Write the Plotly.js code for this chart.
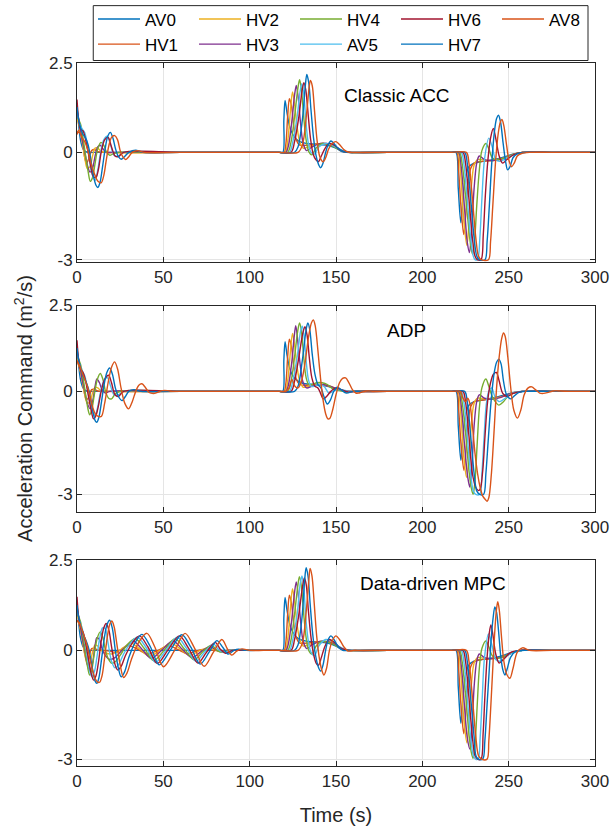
<!DOCTYPE html>
<html>
<head>
<meta charset="utf-8">
<script src="https://cdn.plot.ly/plotly-3.0.1.min.js"></script>
<style>html,body{margin:0;padding:0;background:#fff;}#chart{width:611px;height:831px;}</style>
</head>
<body>
<div id="chart"></div>
<script>
// ---------------- Data ----------------
const vehicles = ['AV0','HV1','HV2','HV3','HV4','AV5','HV6','HV7','AV8'];
const panelTitles = ['Classic ACC','ADP','Data-driven MPC'];
const xTicks = [0,50,100,150,200,250,300];
const yTicks = [-3,0,2.5];
const yTickText = ['-3','0','2.5'];

// ---- Classic ACC ----
const cacc_AV0_t = [0,1,2,3.5,5,7,10,60, 117,119.2,119.8,120.5,121.5,123,125,128,132,138,145,150,153,156,180, 217,219.5,220.8,222.3,223.5,225,227,230,235,242,248,253,258,275, 300];
const cacc_AV0_a = [1.27,0.75,0.35,0.1,0.02,0,0,0, 0,0,0.9,1.45,1.15,0.75,0.5,0.33,0.26,0.23,0.2,0.12,0.03,0,0, 0,0,-1.0,-1.97,-1.3,-0.7,-0.4,-0.3,-0.25,-0.2,-0.12,-0.04,0,0, 0];
const cacc_HV1_t = [0,1,2.2,3.5,4.5,5.5,7,8.5,10,12,15,60, 117,120,121,122,123,124.2,125.5,127,129,133,140,147,151,154,157,180, 217,220,221,222.5,224,225.2,226.5,228,230,235,242,248,253,258,275, 300];
const cacc_HV1_a = [0.5,0.62,0.55,0.2,-0.15,-0.3,-0.15,0.05,0.08,0.02,0,0, 0,0,0.25,1.0,1.5,1.3,0.75,0.35,0.2,0.2,0.24,0.22,0.12,0.03,0,0, 0,0,-0.5,-1.6,-2.3,-1.7,-0.9,-0.45,-0.3,-0.25,-0.22,-0.15,-0.05,0,0, 0];
const cacc_HV2_t = [0,1.5,3,4.5,6,7.5,9,10.5,12,14,17,60, 117,120.5,122,123.5,124.8,126,127.5,129,131,134,140,147,151,154,157,180, 217,220.5,222,224,225.8,227,228.5,230,232,236,242,248,253,258,275, 300];
const cacc_HV2_a = [0.95,0.7,0.3,-0.15,-0.45,-0.4,-0.1,0.12,0.12,0.03,0,0, 0,0,0.3,1.1,1.69,1.35,0.7,0.3,0.12,0.15,0.24,0.22,0.12,0.03,0,0, 0,0,-0.5,-1.9,-2.6,-2.0,-0.9,-0.35,-0.2,-0.22,-0.22,-0.15,-0.05,0,0, 0];
const cacc_HV3_t = [0,1.5,3,4.5,6,7.5,9,10.5,12,13.5,15,17,20,60, 117,121,122.5,124.5,126,127,128.2,129.5,131,133,136,141,147,151,154,157,180, 217,221,222.5,224.5,226,227.3,228.5,230,231.5,233,236,242,248,253,258,275, 300];
const cacc_HV3_a = [1.15,0.8,0.35,0.0,-0.35,-0.55,-0.45,-0.1,0.15,0.2,0.1,0.0,0,0, 0,0,0.2,0.9,1.6,1.87,1.5,0.8,0.25,0.05,0.15,0.25,0.22,0.12,0.03,0,0, 0,0,-0.4,-1.6,-2.5,-2.8,-2.2,-1.0,-0.3,-0.1,-0.2,-0.22,-0.15,-0.05,0,0, 0];
const cacc_HV4_t = [0,2,3.5,5,6.5,7.7,9,10.5,12,13.9,15.5,17,19,21,24,60, 117,122,124,126,127.8,128.9,130,131.3,132.7,134.2,136,138.5,142,147,151,155,158,180, 217,221.5,223,225,227,228,229.1,230.2,231.5,233,234.5,236.8,238.5,240.5,243,248,253,258,275, 300];
const cacc_HV4_a = [1.0,0.8,0.4,-0.1,-0.55,-0.81,-0.7,-0.3,0.1,0.28,0.2,0.02,-0.08,-0.04,0,0, 0,0,0.3,1.0,1.75,2.03,1.75,1.0,0.35,0.02,-0.07,0.12,0.25,0.2,0.1,0.02,0,0, 0,0,-0.3,-1.2,-2.2,-2.6,-2.85,-2.5,-1.5,-0.5,0.05,0.25,0.1,-0.15,-0.2,-0.15,-0.05,0,0, 0];
const cacc_AV5_t = [0,1.5,3,4.5,6,7.5,9,10.5,12,13.5,15.5,17.5,19.5,21.5,24,27,60, 117,123,125,127.5,129.2,130.2,131.3,132.5,134,135.5,137.5,140,144,148,152,156,159,180, 217,222.5,224,226,228,229.5,230.5,232,233.3,234.5,236,238.5,240.5,242.5,245,249,254,259,275, 300];
const cacc_AV5_a = [1.18,0.8,0.65,0.55,0.2,-0.3,-0.65,-0.78,-0.5,-0.05,0.35,0.45,0.2,-0.08,-0.1,0,0, 0,0,0.3,1.0,1.7,1.92,1.65,0.9,0.25,0.0,-0.05,0.15,0.25,0.2,0.1,0.02,0,0, 0,0,-0.3,-1.3,-2.4,-2.9,-3.0,-3.0,-2.4,-1.3,-0.2,0.4,0.15,-0.2,-0.25,-0.15,-0.05,0,0, 0];
const cacc_HV6_t = [0,1,2,3.5,5,6.5,8,9.5,11,12.5,14,16,18,20,22,24,27,60, 117,124,126,128.5,130.3,131.4,132.5,133.8,135.2,136.8,138.3,139.8,141.5,143.5,146,149,152,156,160,180, 217,223.5,225,227,229,230.5,231.8,234,235.3,236.5,238,239.5,241.1,242.7,244.5,246.5,249,253,258,275, 300];
const cacc_HV6_a = [1.48,0.9,0.65,0.6,0.35,0.0,-0.4,-0.68,-0.7,-0.45,0.0,0.35,0.42,0.15,-0.1,-0.12,0,0, 0,0,0.3,1.0,1.7,1.95,1.75,1.1,0.4,-0.05,-0.2,-0.26,-0.1,0.1,0.25,0.2,0.08,0.01,0,0, 0,0,-0.3,-1.3,-2.4,-2.9,-3.0,-3.0,-2.3,-1.2,-0.2,0.4,0.67,0.35,-0.1,-0.3,-0.2,-0.06,0,0, 0];
const cacc_HV7_t = [0,1,2,3.5,5,6.5,8,9.5,11,12.1,13.3,14.8,16.3,17.8,19.3,20.8,22.3,24,25.6,27.5,30,34,38,60, 117,126,128,130.5,132.2,133.1,134.2,135.5,137,138.5,140,141.1,142.5,144,145.5,147.1,148.8,151,154,158,162,180, 217,224.5,226,228,230,231.5,232.8,236.3,237.5,238.8,240.2,241.8,243,244.1,245.3,246.8,248.2,249.4,250.8,252.5,255,260,275, 300];
const cacc_HV7_a = [1.27,0.9,0.7,0.5,0.4,0.2,-0.2,-0.65,-0.92,-0.98,-0.85,-0.4,0.1,0.45,0.56,0.4,0.1,-0.12,-0.19,-0.12,0.0,0.06,0,0, 0,0,0.15,0.9,1.85,2.18,1.95,1.2,0.4,-0.1,-0.35,-0.43,-0.3,0.0,0.22,0.32,0.25,0.12,0.03,0,0,0, 0,0,-0.3,-1.3,-2.4,-2.9,-3.0,-3.0,-2.5,-1.5,-0.3,0.6,0.95,1.04,0.85,0.25,-0.25,-0.49,-0.4,-0.15,-0.04,0,0, 0];
const cacc_AV8_t = [0,1.5,3,4.5,6,7.5,9,10.5,12,14,15.5,17,18.5,20,21.8,23.5,25,26.5,28.1,30,32,35,39,60, 117,128,130.5,133,134.5,135.2,136.3,137.5,139,140.5,142,142.7,144,145.8,147.8,150,152,154.5,157,160,164,180, 217,225.5,227,229,231,232.5,234,238.3,239.5,240.8,242.5,244,245.2,246.1,247.2,248.8,250.3,251.7,253.2,255,257.5,262,275, 300];
const cacc_AV8_a = [0.57,0.55,0.4,0.3,0.1,-0.2,-0.45,-0.65,-0.8,-0.85,-0.65,-0.2,0.2,0.42,0.47,0.35,0.05,-0.12,-0.2,-0.12,0.0,0.05,0,0, 0,0,0.2,1.1,1.85,2.01,1.85,1.2,0.35,-0.1,-0.25,-0.26,-0.15,0.1,0.25,0.3,0.22,0.08,0.01,0,0,0, 0,0,-0.3,-1.3,-2.4,-2.9,-3.0,-3.0,-2.5,-1.5,-0.2,0.55,0.85,0.92,0.75,0.2,-0.25,-0.4,-0.3,-0.1,-0.03,0,0, 0];

// ---- ADP ----
const adp_AV0_t = [0,1,2,3.5,5,7,10,60, 117,119.2,119.8,120.5,121.5,123,125,128,132,138,145,150,154,158,180, 217,219.5,220.8,222.3,223.5,225,227,230,235,242,248,253,258,275, 300];
const adp_AV0_a = [1.26,0.75,0.35,0.1,0.02,0,0,0, 0,0,0.9,1.45,1.1,0.7,0.45,0.3,0.22,0.2,0.15,0.07,0.02,0,0, 0,0,-1.0,-2.01,-1.3,-0.7,-0.4,-0.3,-0.25,-0.18,-0.1,-0.03,0,0, 0];
const adp_HV1_t = [0,1,2.2,3.5,4.5,5.5,7,8.5,10,12,15,60, 117,120,121,122,123,124.2,125.5,127,129,133,140,146,150,154,158,180, 217,220,221,222.5,224.1,225.3,226.5,228,230,235,242,248,253,258,275, 300];
const adp_HV1_a = [0.9,0.75,0.55,0.2,-0.1,-0.25,-0.15,0.05,0.06,0.01,0,0, 0,0,0.25,1.0,1.52,1.3,0.75,0.35,0.2,0.18,0.2,0.15,0.07,0.02,0,0, 0,0,-0.5,-1.6,-2.3,-1.7,-0.9,-0.45,-0.3,-0.25,-0.2,-0.12,-0.04,0,0, 0];
const adp_HV2_t = [0,1.5,3,4.5,6,7.5,9,10.5,12,14,17,60, 117,120.5,122,123.5,124.8,126,127.5,129,131,134,140,146,150,154,158,180, 217,220.5,222,224,225.6,227,228.5,230,232,236,242,248,253,258,275, 300];
const adp_HV2_a = [1.03,0.7,0.3,-0.1,-0.35,-0.3,-0.05,0.12,0.1,0.02,0,0, 0,0,0.3,1.1,1.69,1.35,0.7,0.3,0.12,0.15,0.2,0.16,0.08,0.02,0,0, 0,0,-0.5,-1.9,-2.5,-2.0,-0.9,-0.35,-0.2,-0.22,-0.2,-0.13,-0.04,0,0, 0];
const adp_HV3_t = [0,1.5,3,4.5,6,7.5,9,10.5,11.5,13,14.5,16.5,19,60, 117,121,122.5,124.5,125.8,126.7,127.8,129.2,131,133,136,141,146,150,154,158,180, 217,221,222.5,224.5,226.3,227.5,228.7,230,231.5,233,236,242,248,253,258,275, 300];
const adp_HV3_a = [1.15,0.8,0.35,0.0,-0.35,-0.5,-0.3,0.15,0.36,0.25,0.05,-0.05,0,0, 0,0,0.2,0.9,1.6,1.91,1.5,0.8,0.25,0.1,0.15,0.2,0.16,0.08,0.02,0,0, 0,0,-0.4,-1.6,-2.5,-2.79,-2.2,-1.0,-0.3,-0.1,-0.2,-0.22,-0.13,-0.04,0,0, 0];
const adp_HV4_t = [0,2,3.5,5,6.3,7.3,8.5,10,11.8,13.5,15,16.5,18.3,20,22,25,60, 117,122,124,126,127.8,128.9,130,131.3,132.7,134.2,136,139,142,145,148,152,156,160,180, 217,221.5,223,225,227,228.3,229.4,230.5,231.8,233,234.5,236.8,238.5,240.5,243,244.3,247,250,254,258,275, 300];
const adp_HV4_a = [1.03,0.8,0.4,-0.1,-0.5,-0.68,-0.55,-0.1,0.35,0.52,0.35,0.0,-0.2,-0.22,-0.08,0,0, 0,0,0.3,1.0,1.75,1.99,1.75,1.0,0.4,0.2,0.2,0.25,0.25,0.2,0.08,0.02,-0.02,0,0, 0,0,-0.3,-1.2,-2.3,-2.8,-3.0,-2.6,-1.5,-0.5,0.1,0.36,0.15,-0.15,-0.35,-0.4,-0.3,-0.12,-0.03,0,0, 0];
const adp_AV5_t = [0,1.5,3,4.5,6,7.5,9,10.5,12,13.5,15.5,17.5,19.5,21.5,24,27,60, 117,123,125,127.5,129.5,130.5,131.5,132.7,134,135.5,137.5,140,143,146,149,153,157,161,180, 217,222.5,224,226,228,229.5,231,233.3,234.5,235.8,237,238.5,240.2,242,244.5,248,252,257,275, 300];
const adp_AV5_a = [1.15,0.8,0.6,0.45,0.1,-0.3,-0.6,-0.7,-0.45,-0.05,0.3,0.4,0.15,-0.1,-0.1,0,0, 0,0,0.3,1.0,1.75,1.9,1.6,0.9,0.35,0.15,0.15,0.2,0.15,-0.05,0.02,0.05,0.0,0,0, 0,0,-0.3,-1.3,-2.4,-2.9,-3.0,-3.0,-2.4,-1.3,-0.4,0.0,0.1,-0.15,-0.3,-0.2,-0.06,0,0, 0];
const adp_HV6_t = [0,1,2,3.5,5,6.5,8,9.6,11,12.5,14,16,18.3,20,22,24,27,60, 117,124,126,128.5,130.8,132,133.2,134.5,136,137.8,139.5,141,142.7,144.5,147,150,153,157,161,180, 217,223.5,225,227,229,231,232.5,233.5,235,236.3,237.8,239.5,241.2,242.9,244.5,246.5,249,253,258,275, 300];
const adp_HV6_a = [1.49,0.9,0.65,0.55,0.3,-0.1,-0.5,-0.8,-0.7,-0.4,0.0,0.35,0.47,0.25,-0.1,-0.15,0,0, 0,0,0.3,1.0,1.7,1.88,1.65,1.0,0.4,0.15,0.1,-0.05,-0.22,-0.15,0.0,0.1,0.05,-0.02,0,0, 0,0,-0.3,-1.3,-2.4,-2.8,-2.89,-2.85,-2.3,-1.3,-0.3,0.25,0.5,0.55,0.3,-0.05,-0.15,-0.05,0,0, 0];
const adp_HV7_t = [0,1,2,3.5,5,6.5,8,9.5,10.5,11.5,12.7,14.2,15.7,17.3,18.9,20.5,22.2,24,26.1,28,30,33,37,60, 117,126,128,130.5,132.7,133.7,134.8,136.2,137.8,139.5,141.3,143,145,146.8,148.7,150.8,153,156,160,164,180, 217,224.5,226,228,230,231.5,233.2,235.5,236.8,238.2,239.8,241.5,243,244.3,245.6,247,248.8,251.2,253.5,256,260,275, 300];
const adp_HV7_a = [1.26,0.9,0.7,0.45,0.3,0.1,-0.25,-0.65,-0.85,-0.9,-0.75,-0.3,0.2,0.55,0.68,0.5,0.1,-0.15,-0.27,-0.15,0.0,0.05,0,0, 0,0,0.15,0.9,1.8,1.99,1.8,1.1,0.5,0.2,0.1,-0.15,-0.37,-0.25,0.0,0.12,0.05,-0.05,0,0,0, 0,0,-0.3,-1.3,-2.4,-2.9,-3.0,-3.0,-2.4,-1.4,-0.3,0.5,0.85,0.94,0.8,0.3,-0.1,-0.22,-0.12,-0.03,0,0, 0];
const adp_AV8_t = [0,1.5,3,4.5,6,7.5,9,10.5,12,14.1,16,18,20,21.8,23.5,25.5,27.7,29.9,32,34,35.8,37.6,39.5,41.5,43.5,45,47,49.5,52.4,55,58,66, 117,121,122.8,124.5,126.2,128,130,132,134,135.8,136.9,138,139.5,141,142.5,144,145.3,146.5,148,150,152,153.8,155.6,157.5,159.5,161.5,163,165,168,172,185, 217,222,223.5,225,226.3,227.5,229,230.5,232,233.5,235,236.5,237.5,238.5,240,241.5,243,244.5,246,247,248,249.5,251,253,255.1,257,259,261.3,263.4,265.5,268,270.2,273,276,280,285,292, 300];
const adp_AV8_a = [0.9,0.75,0.55,0.35,0.15,-0.15,-0.45,-0.65,-0.72,-0.73,-0.35,0.25,0.7,0.86,0.65,0.1,-0.35,-0.51,-0.3,0.0,0.18,0.22,0.12,-0.02,-0.06,-0.06,-0.02,0.02,0.02,0.0,0,0, 0,0,0.1,0.35,0.15,0.1,0.3,0.8,1.55,2.0,2.08,1.9,1.2,0.4,-0.25,-0.65,-0.8,-0.78,-0.55,-0.1,0.25,0.38,0.39,0.25,0.05,-0.05,-0.05,-0.02,0.01,0,0, 0,0,-0.2,-0.3,-0.2,-0.35,-1.0,-1.8,-2.4,-2.8,-3.05,-3.15,-3.2,-3.1,-2.4,-1.2,0.1,1.0,1.55,1.7,1.6,1.0,0.2,-0.55,-0.78,-0.55,-0.1,0.1,0.13,0.05,-0.05,-0.06,-0.03,0.01,0.01,0,0, 0];

// ---- Data-driven MPC ----
const mpc_AV0_t = [0,1,2,3.5,5,7,10,60, 117,119.2,119.8,120.5,121.5,123,125,128,132,138,145,150,153,156,180, 217,219.5,220.8,222.3,223.5,225,227,230,235,242,248,253,258,275, 300];
const mpc_AV0_a = [1.25,0.75,0.35,0.1,0.02,0,0,0, 0,0,0.9,1.46,1.15,0.75,0.5,0.33,0.26,0.23,0.2,0.12,0.03,0,0, 0,0,-1.0,-2.01,-1.3,-0.7,-0.4,-0.3,-0.25,-0.2,-0.12,-0.04,0,0, 0];
const mpc_HV1_t = [0,1,2.2,3.5,4.5,5.5,7,8.5,10,12,15,19,22,26,30,35.5,40.8,47,53,58.5,64,69.5,75,79,84,90,105, 117,120,121,122,123,124.2,125.5,127,129,133,140,147,151,154,157,180, 217,220,221,222.5,224,225.2,226.5,228,230,235,242,248,253,258,275, 300];
const mpc_HV1_a = [0.83,0.75,0.55,0.2,-0.1,-0.25,-0.15,0.05,0.06,0.01,0.0,-0.02,-0.05,0.03,0.13,0.02,-0.1,0.0,0.13,0.02,-0.09,-0.01,0.04,0.0,-0.01,0,0, 0,0,0.25,1.0,1.52,1.3,0.75,0.35,0.2,0.2,0.24,0.22,0.12,0.03,0,0, 0,0,-0.5,-1.6,-2.3,-1.7,-0.9,-0.45,-0.3,-0.25,-0.22,-0.15,-0.05,0,0, 0];
const mpc_HV2_t = [0,1.5,3,4.5,6,7.5,9,10.5,12,14,17,20,23,27,31.3,36.5,42,48,54.3,60,65.3,70.5,76,80,85,91,105, 117,120.5,122,123.5,124.8,126,127.5,129,131,134,140,147,151,154,157,180, 217,220.5,222,224,225.8,227,228.5,230,232,236,242,248,253,258,275, 300];
const mpc_HV2_a = [1.02,0.7,0.3,-0.1,-0.38,-0.33,-0.05,0.15,0.12,0.0,-0.08,-0.1,-0.05,0.08,0.2,0.03,-0.16,0.0,0.2,0.03,-0.14,-0.02,0.07,0.0,-0.02,0,0, 0,0,0.3,1.1,1.7,1.35,0.7,0.3,0.12,0.15,0.24,0.22,0.12,0.03,0,0, 0,0,-0.5,-1.9,-2.55,-2.0,-0.9,-0.35,-0.2,-0.22,-0.22,-0.15,-0.05,0,0, 0];
const mpc_HV3_t = [0,1.5,3,4.5,6,7.5,9,10.5,11.5,13,14.5,16.5,19,22,25,28.5,32.5,37.5,43,49,55.5,61,66.5,72,77,81,83,87,92,105, 117,121,122.5,124.5,126,127,128.2,129.5,131,133,136,141,147,151,154,157,180, 217,221,222.5,224.5,226,227.5,228.7,230,231.5,233,236,242,248,253,258,275, 300];
const mpc_HV3_a = [1.15,0.8,0.35,0.0,-0.4,-0.55,-0.35,0.15,0.35,0.3,0.05,-0.15,-0.25,-0.2,-0.05,0.12,0.26,0.04,-0.22,0.0,0.26,0.03,-0.2,-0.03,0.1,0.0,-0.03,0.0,0,0, 0,0,0.2,0.9,1.6,1.89,1.5,0.8,0.25,0.05,0.15,0.25,0.22,0.12,0.03,0,0, 0,0,-0.4,-1.6,-2.4,-2.72,-2.2,-1.0,-0.3,-0.1,-0.2,-0.22,-0.15,-0.05,0,0, 0];
const mpc_HV4_t = [0,2,3.5,5,6.3,7.3,8.5,10,11.8,13.5,15,16.5,18.3,20.2,22.5,25.5,29,33.8,39,44.3,50.5,56.8,62.3,67.8,73,78,81,84,88,93,105, 117,122,124,126,127.8,128.8,130,131.3,132.7,134.2,136,138.5,142,147,151,155,158,180, 217,221.5,223,225,227,228.3,229.4,230.5,231.8,233,234.5,236.8,238.5,240.5,243,248,253,258,275, 300];
const mpc_HV4_a = [1.02,0.8,0.4,-0.1,-0.5,-0.68,-0.55,-0.1,0.35,0.51,0.35,0.0,-0.25,-0.36,-0.3,-0.1,0.15,0.32,0.05,-0.28,0.0,0.32,0.03,-0.26,-0.03,0.14,0.0,-0.05,0.0,0,0, 0,0,0.3,1.0,1.75,2.03,1.75,1.0,0.35,0.0,-0.1,0.12,0.25,0.2,0.1,0.02,0,0, 0,0,-0.3,-1.2,-2.3,-2.8,-2.98,-2.6,-1.5,-0.5,0.05,0.26,0.1,-0.15,-0.22,-0.15,-0.05,0,0, 0];
const mpc_AV5_t = [0,1.5,3,4.5,6,7.5,8.5,10,11.5,13,14.8,16.3,18,20,22,24,27,31,35,40,45.5,51.5,58,63.5,69,74,79,82,85,89,94,105, 117,123,125,127.5,129.3,130.3,131.3,132.5,134,135.5,137.5,140,144,148,152,156,159,180, 217,222.5,224,226,228,229.5,230.8,232.3,233.5,234.7,236,238.3,240.3,242.5,245,249,254,259,275, 300];
const mpc_AV5_a = [1.15,0.8,0.6,0.3,-0.2,-0.6,-0.72,-0.6,-0.2,0.3,0.62,0.6,0.2,-0.3,-0.48,-0.4,-0.1,0.2,0.36,0.08,-0.33,0.0,0.36,0.05,-0.3,-0.04,0.18,0.02,-0.06,0.0,0,0, 0,0,0.3,1.0,1.85,2.05,1.75,0.9,0.25,-0.05,-0.15,0.12,0.3,0.25,0.1,0.02,0,0, 0,0,-0.3,-1.3,-2.4,-2.9,-3.0,-3.0,-2.4,-1.3,-0.2,0.45,0.15,-0.25,-0.3,-0.15,-0.05,0,0, 0];
const mpc_HV6_t = [0,1,2,3.5,5,6.5,8,9.6,11,12.5,14,15.5,16.9,18.5,20,21.8,23.5,25.5,28,32,36.2,41,46.5,52.5,59.3,64.5,70,75,80,83,86,90,95,105, 117,124,126,128.5,130.6,131.7,132.8,134,135.4,137,138.5,139.8,141.5,143.5,146,149,152,156,160,180, 217,223.5,225,227,229,230.5,232,234,235.2,236.3,237.5,238.7,239.7,240.8,242.5,244.5,247,251,256,275, 300];
const mpc_HV6_a = [1.48,0.9,0.65,0.5,0.2,-0.2,-0.6,-0.82,-0.7,-0.3,0.25,0.62,0.74,0.55,0.1,-0.35,-0.54,-0.45,-0.15,0.2,0.4,0.1,-0.36,0.0,0.4,0.07,-0.35,-0.05,0.22,0.03,-0.08,0.0,0,0, 0,0,0.3,1.0,1.75,2.0,1.8,1.1,0.4,-0.1,-0.35,-0.41,-0.2,0.1,0.3,0.22,0.08,0.01,0,0, 0,0,-0.3,-1.3,-2.4,-2.9,-3.0,-3.0,-2.3,-1.2,-0.2,0.45,0.7,0.45,-0.1,-0.35,-0.25,-0.06,0,0, 0];
const mpc_HV7_t = [0,1,2,3.5,5,6.5,8,9.5,10.5,11.5,12.7,14.2,15.7,17.3,18.9,20.5,22.2,24,25.6,27.5,30,33.5,37.6,42.5,47.6,54,60.7,66,71.3,76.5,81,84.5,87.5,91,93.5,98,106, 117,126,128,130.3,131.8,132.7,133.8,135,136.5,138,139.7,141.1,142.5,144,145.5,147.1,148.8,151,154,158,162,180, 217,224.5,226,228,230,231,232.3,235,236.2,237.5,238.8,240,241,242,243,244.2,245.5,246.7,247.8,249.2,251,254,258,275, 300];
const mpc_HV7_a = [1.25,0.9,0.7,0.45,0.3,0.1,-0.25,-0.65,-0.85,-0.91,-0.75,-0.25,0.3,0.7,0.83,0.6,0.0,-0.5,-0.73,-0.6,-0.2,0.2,0.44,0.1,-0.4,0.0,0.43,0.08,-0.38,-0.05,0.27,0.08,-0.1,0.0,0.03,0,0, 0,0,0.15,0.9,1.9,2.28,2.05,1.3,0.45,-0.1,-0.45,-0.57,-0.4,0.0,0.3,0.4,0.3,0.12,0.0,0,0,0, 0,0,-0.3,-1.3,-2.4,-2.9,-3.0,-3.0,-2.5,-1.5,-0.5,0.4,0.9,1.2,1.05,0.5,-0.2,-0.55,-0.68,-0.5,-0.2,-0.03,0,0, 0];
const mpc_AV8_t = [0,1.5,3,4.5,6,7.5,9,10.5,11.8,13.1,14.5,16,17.5,19,20.2,21.5,23,25,27,29,31.5,35.5,40.5,45,50.1,56.5,62.6,68,73.6,79,83.9,87,89.6,92.5,95.5,100,108, 117,128,130.5,132.8,134.3,135,136.1,137.3,138.8,140.3,141.8,143,144.5,146.2,148.2,150,152,154.5,157,160,164,180, 217,225.5,227,229,231,232.5,234.3,237.5,238.5,239.7,241,242.2,243,243.7,244.6,245.8,247.2,248.8,250.7,252.5,255,258,262,275, 300];
const mpc_AV8_a = [0.83,0.75,0.55,0.35,0.1,-0.25,-0.55,-0.78,-0.87,-0.88,-0.7,-0.2,0.35,0.72,0.81,0.65,0.2,-0.4,-0.75,-0.62,-0.25,0.2,0.47,0.1,-0.45,0.0,0.47,0.07,-0.44,-0.05,0.3,0.05,-0.13,-0.02,0.04,0,0, 0,0,0.2,1.1,1.95,2.26,2.05,1.35,0.4,-0.2,-0.55,-0.68,-0.5,0.0,0.3,0.4,0.3,0.1,-0.02,0,0,0, 0,0,-0.3,-1.3,-2.4,-2.9,-3.0,-3.0,-2.5,-1.5,-0.3,0.7,1.15,1.34,1.1,0.4,-0.3,-0.65,-0.77,-0.5,-0.05,0.07,0,0, 0];

// ---------------- Build the figure ----------------
const series = {
  cacc: {AV0:[cacc_AV0_t,cacc_AV0_a],HV1:[cacc_HV1_t,cacc_HV1_a],HV2:[cacc_HV2_t,cacc_HV2_a],HV3:[cacc_HV3_t,cacc_HV3_a],HV4:[cacc_HV4_t,cacc_HV4_a],AV5:[cacc_AV5_t,cacc_AV5_a],HV6:[cacc_HV6_t,cacc_HV6_a],HV7:[cacc_HV7_t,cacc_HV7_a],AV8:[cacc_AV8_t,cacc_AV8_a]},
  adp: {AV0:[adp_AV0_t,adp_AV0_a],HV1:[adp_HV1_t,adp_HV1_a],HV2:[adp_HV2_t,adp_HV2_a],HV3:[adp_HV3_t,adp_HV3_a],HV4:[adp_HV4_t,adp_HV4_a],AV5:[adp_AV5_t,adp_AV5_a],HV6:[adp_HV6_t,adp_HV6_a],HV7:[adp_HV7_t,adp_HV7_a],AV8:[adp_AV8_t,adp_AV8_a]},
  mpc: {AV0:[mpc_AV0_t,mpc_AV0_a],HV1:[mpc_HV1_t,mpc_HV1_a],HV2:[mpc_HV2_t,mpc_HV2_a],HV3:[mpc_HV3_t,mpc_HV3_a],HV4:[mpc_HV4_t,mpc_HV4_a],AV5:[mpc_AV5_t,mpc_AV5_a],HV6:[mpc_HV6_t,mpc_HV6_a],HV7:[mpc_HV7_t,mpc_HV7_a],AV8:[mpc_AV8_t,mpc_AV8_a]}
};
const colors = {AV0:'#0072BD',HV1:'#D95319',HV2:'#EDB120',HV3:'#7E2F8E',HV4:'#77AC30',AV5:'#4DBEEE',HV6:'#A2142F',HV7:'#0072BD',AV8:'#D95319'};
const legendRank = {AV0:1,HV2:2,HV4:3,HV6:4,AV8:5,HV1:6,HV3:7,AV5:8,HV7:9};

const problems = [];
const traces = [];
['cacc','adp','mpc'].forEach((key, p) => {
  vehicles.forEach(v => {
    const [t, a] = series[key][v];
    if (t.length !== a.length) problems.push(key + '_' + v + ': ' + t.length + ' vs ' + a.length);
    traces.push({
      type: 'scatter', mode: 'lines', x: t, y: a, name: v,
      xaxis: p === 0 ? 'x' : 'x' + (p + 1), yaxis: p === 0 ? 'y' : 'y' + (p + 1),
      line: {color: colors[v], width: 1.4, shape: 'spline', smoothing: 0.9},
      showlegend: p === 0, legendrank: legendRank[v], hoverinfo: 'skip'
    });
  });
});
if (problems.length) throw new Error('Length mismatch: ' + problems.join('; '));

const axisColor = '#262626';
function xAxis(anchor) {
  return {anchor: anchor, domain: [0, 1], range: [0, 300], tickvals: xTicks, ticktext: xTicks.map(String),
    showgrid: true, gridcolor: '#e5e5e5', gridwidth: 1, zeroline: false,
    showline: true, linecolor: axisColor, linewidth: 1, mirror: 'ticks',
    ticks: 'inside', ticklen: 5, tickcolor: axisColor, tickfont: {size: 17, color: axisColor}};
}
function yAxis(anchor, dom, lo) {
  return {anchor: anchor, domain: dom, range: [lo, 2.5], tickvals: yTicks, ticktext: yTickText,
    showgrid: true, gridcolor: '#e5e5e5', gridwidth: 1, zeroline: false,
    showline: true, linecolor: axisColor, linewidth: 1, mirror: 'ticks',
    ticks: 'inside', ticklen: 5, tickcolor: axisColor, tickfont: {size: 17, color: axisColor}};
}
const layout = {
  width: 611, height: 831,
  margin: {l: 77, r: 16, t: 61.5, b: 65, pad: 0},
  paper_bgcolor: '#ffffff', plot_bgcolor: '#ffffff',
  font: {family: 'Liberation Sans, Arial, Helvetica, sans-serif', color: axisColor},
  showlegend: true,
  legend: {orientation: 'h', xref: 'container', yref: 'container', x: 0.1522, xanchor: 'left', y: 0.9982, yanchor: 'top',
    entrywidth: 44, entrywidthmode: 'pixels', itemwidth: 42,
    borderwidth: 0, bgcolor: 'rgba(0,0,0,0)',
    font: {size: 17, color: '#000000'}, traceorder: 'normal', tracegroupgap: 0},
  shapes: [
    {type: 'rect', xref: 'paper', yref: 'paper', x0: 0.0314, x1: 0.9865, y0: 1.00355, y1: 1.0816,
     line: {color: axisColor, width: 1}, fillcolor: 'rgba(0,0,0,0)'}
  ],
  xaxis: xAxis('y'),
  yaxis: yAxis('x', [0.7172, 1], -3.06),
  xaxis2: xAxis('y2'),
  yaxis2: Object.assign(yAxis('x2', [0.362, 0.655], -3.5),
    {title: {text: 'Acceleration Command (m<sup>2</sup>/s)', font: {size: 20, color: axisColor}, standoff: 10}}),
  xaxis3: Object.assign(xAxis('y3'), {title: {text: 'Time (s)', font: {size: 20, color: axisColor}, standoff: 17}}),
  yaxis3: yAxis('x3', [0, 0.2934], -3.19),
  annotations: [
    {xref: 'x', yref: 'y', x: 185.3, y: 1.6, text: panelTitles[0], showarrow: false, font: {size: 19, color: '#000'}},
    {xref: 'x2', yref: 'y2', x: 190.9, y: 1.76, text: panelTitles[1], showarrow: false, font: {size: 19, color: '#000'}},
    {xref: 'x3', yref: 'y3', x: 206.3, y: 1.85, text: panelTitles[2], showarrow: false, font: {size: 19, color: '#000'}}
  ]
};
Plotly.newPlot('chart', traces, layout, {displayModeBar: false, staticPlot: true});
</script>
</body>
</html>
